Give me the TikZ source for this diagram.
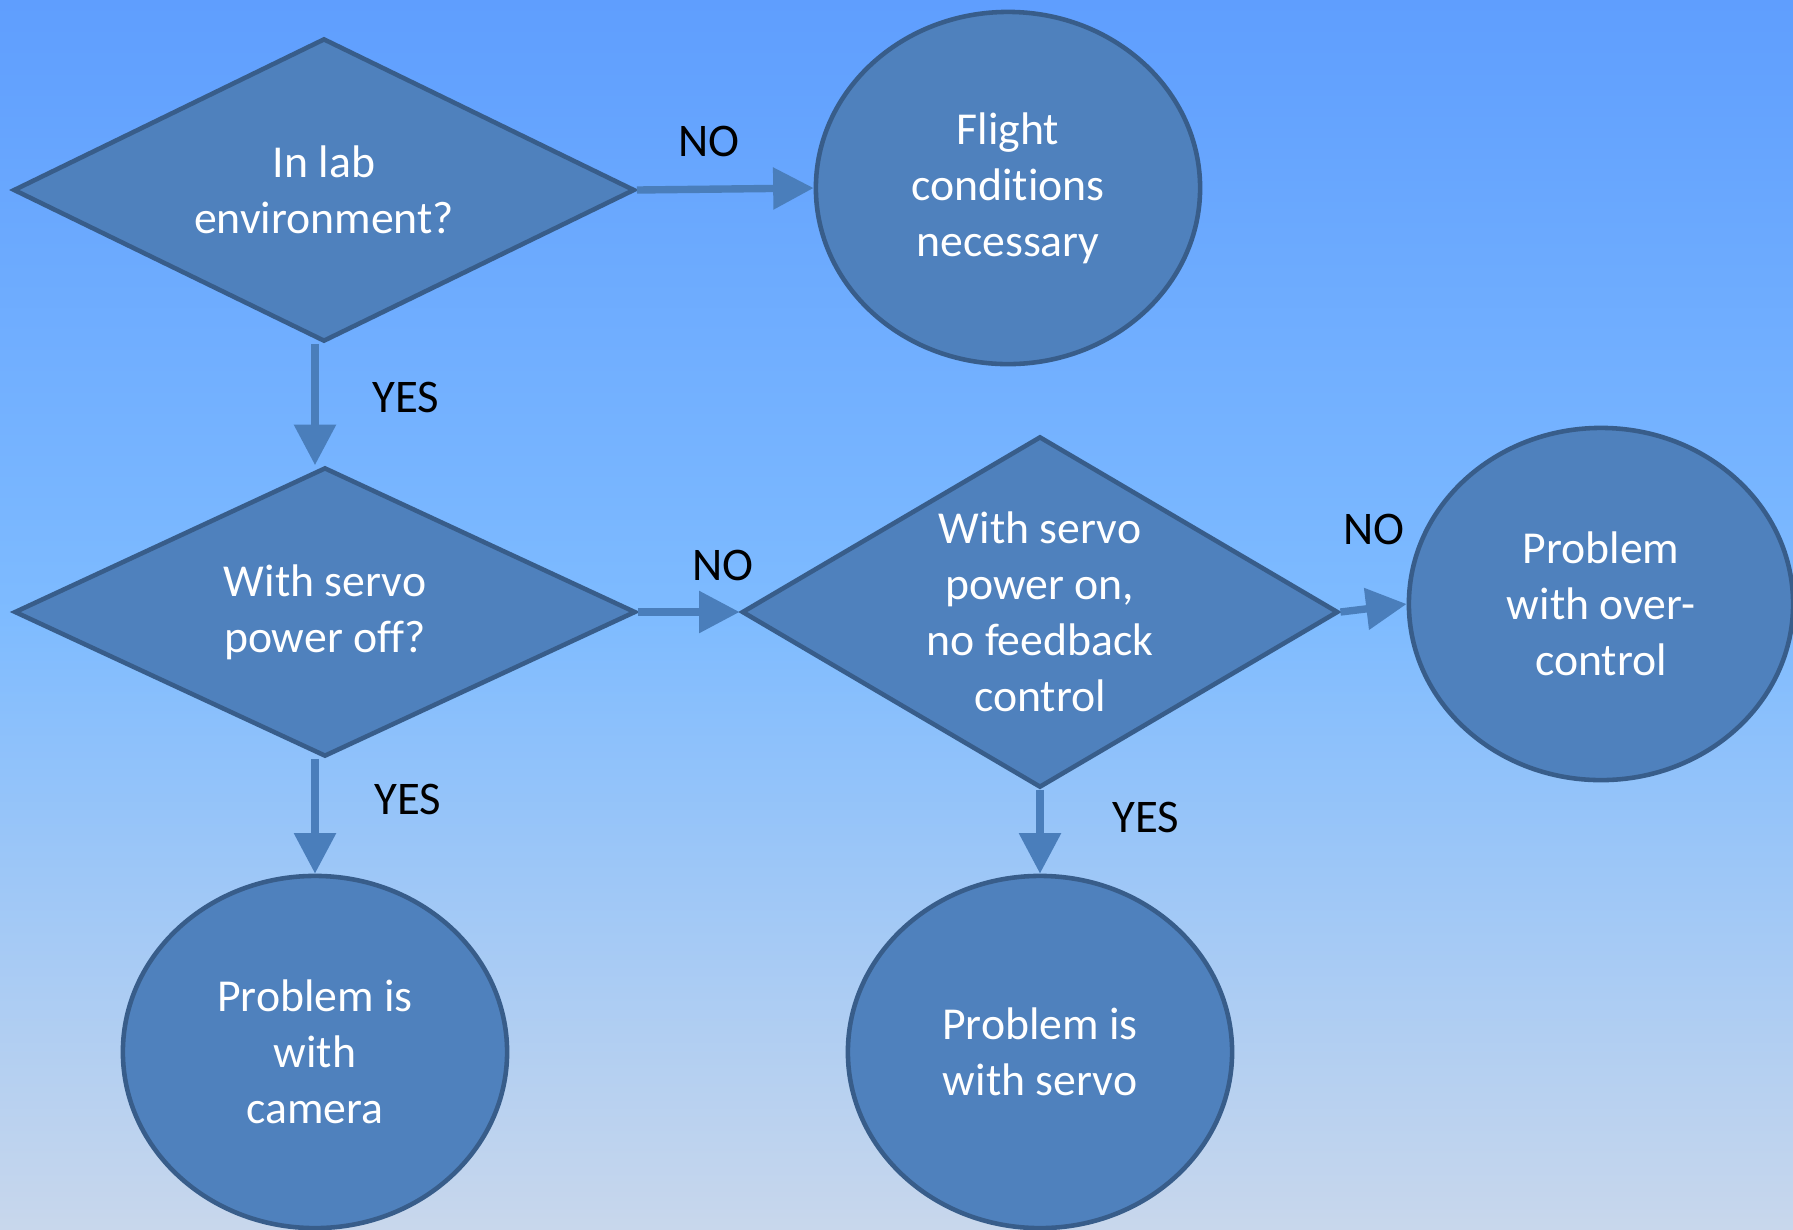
\documentclass[tikz,border=0pt]{standalone}
\usepackage{fontspec}
\setmainfont{Carlito}[Ligatures=NoCommon]
\usetikzlibrary{shapes.geometric,arrows.meta}
\definecolor{boxfill}{RGB}{79,129,189}
\definecolor{boxline}{RGB}{56,93,138}
\definecolor{arrowblue}{RGB}{74,126,187}
\definecolor{bgtop}{RGB}{95,158,254}
\definecolor{bgmid}{RGB}{126,187,255}
\definecolor{bgbot}{RGB}{200,215,236}
\tikzset{
	question/.style={diamond, draw=boxline, fill=boxfill, line width=1.3pt, text=white, inner sep=0pt, align=center, font=\fontsize{13}{15.9}\selectfont},
	answer/.style={ellipse, draw=boxline, fill=boxfill, line width=1.3pt, text=white, inner sep=0pt, align=center, minimum width=3.84cm, minimum height=3.52cm, font=\fontsize{13}{15.9}\selectfont},
	conn/.style={draw=arrowblue, line width=2.1pt, -{Triangle[length=11.5pt,width=11.5pt]}},
	lbl/.style={text=black, inner sep=0pt, font=\fontsize{13.3}{15.9}\selectfont}
}

\begin{document}
\begin{tikzpicture}[x=0.01cm,y=-0.01cm]
			%%%%% START %%%%%
			
			\useasboundingbox (0,0) rectangle (1793,1229);
			\shade[top color=bgtop, bottom color=bgbot, middle color=bgmid] (0,0) rectangle (1793,1229);
			
			\node[question, minimum width=6.21cm, minimum height=3.03cm, aspect=2.05] (lab) at (324,190) {In lab\\environment?};
			\node[question, minimum width=6.21cm, minimum height=2.89cm, aspect=2.15] (servooff) at (325,612) {With servo\\power off?};
			\node[question, minimum width=5.96cm, minimum height=3.51cm, aspect=1.7] (servoon) at (1040,612) {With servo\\power on,\\no feedback\\control};
			
			\node[answer] (flight) at (1008,188) {Flight\\conditions\\necessary};
			\node[answer] (overctl) at (1601,604) {Problem\\with over-\\control};
			\node[answer] (camera) at (315,1052) {Problem is\\with\\camera};
			\node[answer] (servo) at (1040,1052) {Problem is\\with servo};
			
			\draw[conn] (lab.east) -- (flight.west);
			\draw[conn] (lab.south -| camera.north) -- (servooff.north -| camera.north);
			\draw[conn] (servooff.east) -- (servoon.west);
			\draw[conn] (servoon.east) -- (overctl.west);
			\draw[conn] (servooff.south -| camera.north) -- (camera.north);
			\draw[conn] (servoon.south) -- (servo.north);
			
			\node[lbl] (no1) at (709,141) {NO};
			\node[lbl] (yes1) at (406,397) {YES};
			\node[lbl] (no2) at (723,565) {NO};
			\node[lbl] (no3) at (1374,529) {NO};
			\node[lbl] (yes2) at (408,799) {YES};
			\node[lbl] (yes3) at (1146,817) {YES};
			
			%%%%% END %%%%%
\end{tikzpicture}
\end{document}
